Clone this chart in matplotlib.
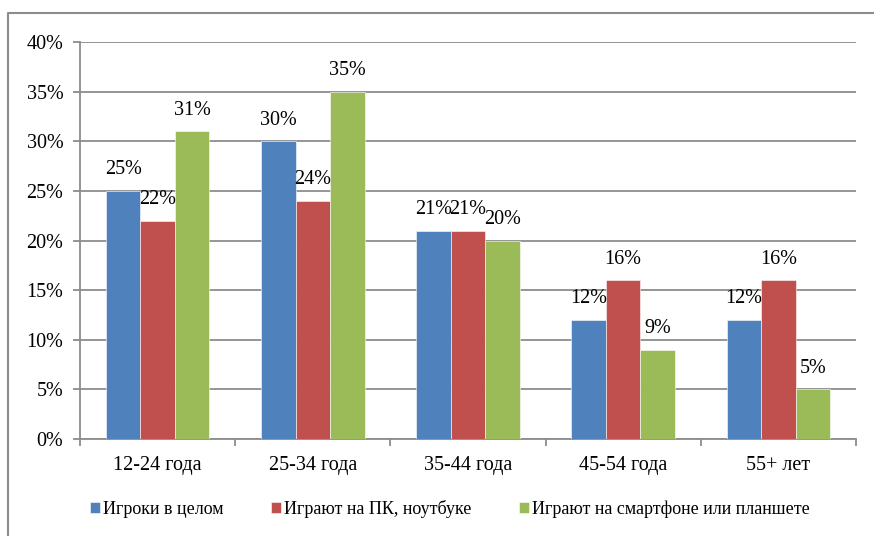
import matplotlib
matplotlib.use("Agg")
import matplotlib.pyplot as plt
from matplotlib.patches import Patch
from matplotlib.lines import Line2D
import numpy as np

categories = ["12-24 года", "25-34 года", "35-44 года", "45-54 года", "55+ лет"]
series_names = ["Игроки в целом", "Играют на ПК, ноутбуке", "Играют на смартфоне или планшете"]
players_total = [25, 30, 21, 12, 12]
players_pc = [22, 24, 21, 16, 16]
players_mobile = [31, 35, 20, 9, 5]
y_ticks = [0, 5, 10, 15, 20, 25, 30, 35, 40]

colors = ["#4F81BD", "#C0504D", "#9BBB59"]
grid_color = "#8C8C8C"

plt.rcParams["font.family"] = ["Liberation Serif", "DejaVu Serif"]

W, H = 874, 536
fig = plt.figure(figsize=(W / 100, H / 100), dpi=100)
ax = fig.add_axes([80 / W, (H - 439) / H, 776 / W, 397 / H])

series = [players_total, players_pc, players_mobile]
x = np.arange(len(categories))
bw = 1 / 4.5
for i, (vals, col) in enumerate(zip(series, colors)):
    pos = x + (i - 1) * bw
    bars = ax.bar(pos, vals, width=bw, color=col, edgecolor="white", linewidth=0.4, zorder=3)
    for b, v in zip(bars, vals):
        ax.annotate(f"{v}%", (b.get_x() + b.get_width() / 2, v),
                    xytext=(0, 8.3), textcoords="offset points",
                    ha="center", va="bottom", fontsize=14.5, color="black", zorder=4)

ax.set_xlim(-0.5, len(categories) - 0.5)
ax.set_ylim(0, 40)
ax.set_yticks(y_ticks)
ax.set_yticklabels([f"{t}%" for t in y_ticks], fontsize=14.5)
ax.yaxis.grid(True, color=grid_color, linewidth=1.3, zorder=0)
ax.set_axisbelow(True)

ax.set_xticks(np.arange(len(categories) + 1) - 0.5)
ax.set_xticklabels([])
ax.set_xticks(x, minor=True)
ax.set_xticklabels(categories, minor=True, fontsize=14.5)
ax.tick_params(axis="x", which="major", length=5, color=grid_color, width=1.3)
ax.tick_params(axis="x", which="minor", length=0, pad=12)
ax.tick_params(axis="y", length=5, color=grid_color, width=1.3, pad=7)

for side in ["top", "right"]:
    ax.spines[side].set_visible(False)
for side in ["left", "bottom"]:
    ax.spines[side].set_color(grid_color)
    ax.spines[side].set_linewidth(1.3)

handles = [Patch(facecolor=c, edgecolor="white", linewidth=0.4) for c in colors]
fig.legend(handles, series_names, loc="center", bbox_to_anchor=(450 / W, 1 - 509 / H),
           ncol=3, frameon=False, fontsize=13, handlelength=0.55, handleheight=0.55,
           handletextpad=0.2, columnspacing=2.6, borderpad=0.2)

# outer chart frame (left and top edges)
fig.add_artist(Line2D([8 / W, 8 / W, 1.0], [0.0, 1 - 13 / H, 1 - 13 / H],
                      transform=fig.transFigure, color="#8C8C8C", linewidth=1.5))

fig.savefig("out.png", dpi=100, facecolor="white")
